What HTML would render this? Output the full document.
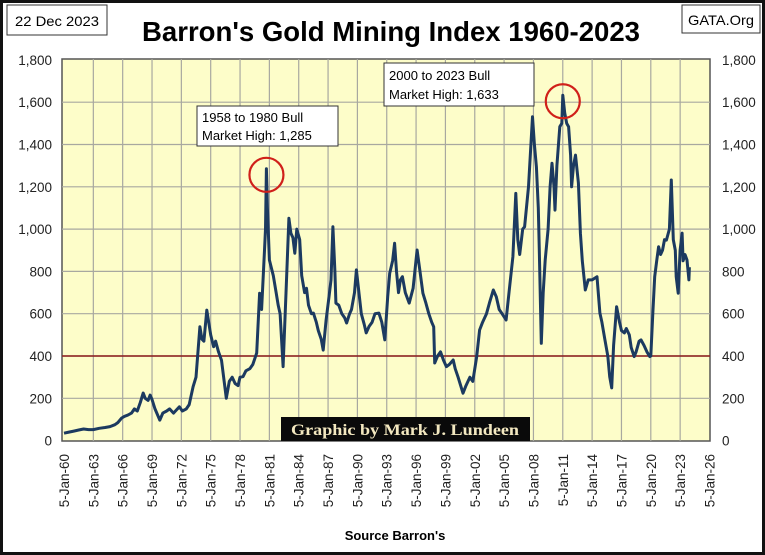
<!DOCTYPE html>
<html><head><meta charset="utf-8"><style>
html,body{margin:0;padding:0;background:#fff;}
svg{display:block;font-family:"Liberation Sans",sans-serif;}
</style></head><body>
<svg id="chart" width="765" height="555" viewBox="0 0 765 555">
<rect x="1.5" y="1.5" width="762" height="552" fill="#fff" stroke="#111" stroke-width="3"/>
<rect x="7" y="5" width="100" height="30" fill="#fff" stroke="#333" stroke-width="1"/>
<text x="57" y="26" font-size="14" text-anchor="middle" textLength="84" lengthAdjust="spacingAndGlyphs">22 Dec 2023</text>
<rect x="682" y="5" width="78" height="28" fill="#fff" stroke="#333" stroke-width="1"/>
<text x="721" y="25" font-size="14" text-anchor="middle" textLength="66" lengthAdjust="spacingAndGlyphs">GATA.Org</text>
<text x="391" y="41" font-size="28" font-weight="bold" text-anchor="middle" textLength="498" lengthAdjust="spacingAndGlyphs">Barron's Gold Mining Index 1960-2023</text>
<rect x="62" y="59" width="648" height="382" fill="#fdfdc9" stroke="#555" stroke-width="1.5"/>
<g id="grid"></g>
<g id="axes"></g>
<line id="ref" x1="62" x2="710" stroke="#8b1a1a" stroke-width="1.6"/>
<path id="series" fill="none" stroke="#1c3a60" stroke-width="3" stroke-linejoin="round"/>
<rect x="197" y="106" width="141" height="40" fill="#fff" stroke="#333" stroke-width="1"/>
<text x="202" y="122" font-size="13">1958 to 1980 Bull</text>
<text x="202" y="140" font-size="13">Market High: 1,285</text>
<circle id="c1" r="17" fill="none" stroke="#d0201a" stroke-width="2.2"/>
<rect x="384" y="63" width="150" height="43" fill="#fff" stroke="#333" stroke-width="1"/>
<text x="389" y="80" font-size="13">2000 to 2023 Bull</text>
<text x="389" y="99" font-size="13">Market High: 1,633</text>
<circle id="c2" r="17" fill="none" stroke="#d0201a" stroke-width="2.2"/>
<rect x="281" y="417" width="249" height="24" fill="#0a0a0a"/>
<text x="405" y="435" font-size="16" font-weight="bold" fill="#f3e8c0" text-anchor="middle" font-family="Liberation Serif,serif" textLength="228" lengthAdjust="spacingAndGlyphs">Graphic by Mark J. Lundeen</text>
<text x="395" y="540" font-size="13" font-weight="bold" text-anchor="middle">Source Barron's</text>
</svg>
<script>
const yTicks=[0,200,400,600,800,1000,1200,1400,1600,1800];
const yTickLabels=["0","200","400","600","800","1,000","1,200","1,400","1,600","1,800"];
const xTickYears=[1960,1963,1966,1969,1972,1975,1978,1981,1984,1987,1990,1993,1996,1999,2002,2005,2008,2011,2014,2017,2020,2023,2026];
const xTickLabels=["5-Jan-60","5-Jan-63","5-Jan-66","5-Jan-69","5-Jan-72","5-Jan-75","5-Jan-78","5-Jan-81","5-Jan-84","5-Jan-87","5-Jan-90","5-Jan-93","5-Jan-96","5-Jan-99","5-Jan-02","5-Jan-05","5-Jan-08","5-Jan-11","5-Jan-14","5-Jan-17","5-Jan-20","5-Jan-23","5-Jan-26"];
const dates=[
1960,1960.5,1961,1961.5,1962,1962.5,1963,1963.6,1964.2,1964.7,
1965.2,1965.5,1965.9,1966.2,1966.5,1966.9,1967.2,1967.5,1967.8,1968.1,
1968.3,1968.6,1968.8,1969.0,1969.3,1969.8,1970.1,1970.5,1970.8,1971.2,
1971.5,1971.8,1972.1,1972.5,1972.8,1973.2,1973.5,1973.9,1974.1,1974.3,
1974.6,1974.8,1975.0,1975.3,1975.5,1975.8,1976.1,1976.6,1976.9,1977.2,
1977.5,1977.8,1978.0,1978.3,1978.6,1979.0,1979.3,1979.7,1980.0,1980.2,
1980.5,1980.6,1980.7,1980.8,1981.0,1981.4,1981.7,1981.9,1982.1,1982.4,
1982.7,1983.0,1983.2,1983.4,1983.6,1983.8,1984.1,1984.3,1984.6,1984.8,
1985.0,1985.3,1985.5,1985.8,1986.0,1986.3,1986.5,1986.8,1987.1,1987.3,
1987.5,1987.7,1987.8,1988.1,1988.4,1988.7,1988.9,1989.2,1989.4,1989.7,
1989.9,1990.2,1990.4,1990.7,1990.9,1991.2,1991.5,1991.8,1992.2,1992.5,
1992.8,1993.1,1993.3,1993.6,1993.8,1994.0,1994.2,1994.4,1994.6,1994.9,
1995.3,1995.7,1996.1,1996.4,1996.7,1997.0,1997.3,1997.6,1997.8,1997.9,
1998.2,1998.5,1998.8,1999.1,1999.4,1999.8,2000.0,2000.3,2000.8,2001.1,
2001.5,2001.8,2002.2,2002.5,2002.8,2003.2,2003.5,2003.9,2004.2,2004.5,
2004.8,2005.2,2005.5,2005.9,2006.2,2006.4,2006.6,2006.9,2007.1,2007.5,
2007.9,2008.1,2008.3,2008.5,2008.6,2008.8,2009.0,2009.2,2009.5,2009.7,
2009.9,2010.1,2010.2,2010.4,2010.7,2010.9,2011.0,2011.2,2011.4,2011.6,
2011.8,2011.9,2012.1,2012.3,2012.6,2012.8,2013.0,2013.3,2013.6,2014.0,
2014.5,2014.8,2015.0,2015.3,2015.6,2015.8,2016.0,2016.2,2016.5,2016.8,
2017.0,2017.3,2017.5,2017.8,2018.0,2018.3,2018.5,2018.8,2019.0,2019.3,
2019.6,2019.9,2020.0,2020.2,2020.4,2020.6,2020.8,2021.0,2021.2,2021.4,
2021.6,2021.9,2022.1,2022.3,2022.5,2022.6,2022.8,2023.0,2023.2,2023.3,
2023.5,2023.7,2023.9,2023.95];
const values=[
35,40,45,50,55,52,52,58,62,66,
75,85,107,115,120,130,150,140,180,225,
200,190,215,195,150,97,130,140,150,130,
145,160,140,150,170,255,300,538,480,470,
617,560,500,444,470,420,380,200,280,300,
270,260,300,302,330,340,360,414,697,620,
900,1000,1285,1100,854,780,698,640,600,350,
698,1051,980,960,886,1000,950,780,700,720,
640,600,603,560,520,480,428,570,680,760,
1011,800,650,640,600,580,556,600,620,700,
807,680,600,550,509,540,560,600,603,560,
476,680,791,850,933,800,700,760,775,700,
650,720,901,800,697,650,600,560,538,367,
400,420,380,350,360,381,340,300,224,260,
300,280,397,523,560,600,650,712,680,620,
600,570,700,870,1169,950,880,1000,1011,1200,
1531,1400,1295,1100,900,460,700,854,1000,1200,
1311,1200,1090,1300,1484,1500,1633,1550,1500,1484,
1350,1200,1300,1350,1218,981,850,712,760,760,
775,603,560,480,400,302,249,450,633,560,
520,509,530,500,440,397,420,470,476,450,
420,397,400,600,775,850,917,880,900,950,
948,1000,1232,950,900,775,697,900,981,850,
880,854,760,820];
const X0=64, PXY=9.78, Y0=440.6, PXV=0.2115;
function xs(yr){return X0+(yr-1960)*PXY;}
function ys(v){return Y0-v*PXV;}
const NS="http://www.w3.org/2000/svg";
const grid=document.getElementById('grid'), axes=document.getElementById('axes');
yTicks.forEach((t,i)=>{
  const y=ys(t);
  if(t>0&&t<1800){const l=document.createElementNS(NS,'line');
  
  
  l.setAttribute('x1',62);l.setAttribute('x2',710);l.setAttribute('y1',y);l.setAttribute('y2',y);l.setAttribute('stroke','#a8a8a0');l.setAttribute('stroke-width','1.2');grid.appendChild(l);}
  [[52,'end','y-tick-label-left'],[722,'start','y-tick-label-right']].forEach(a=>{
    const tx=document.createElementNS(NS,'text');
    
    
    tx.setAttribute('x',a[0]);tx.setAttribute('y',y+5);tx.setAttribute('font-size','13.5');tx.setAttribute('text-anchor',a[1]);tx.setAttribute('fill','#222');tx.textContent=yTickLabels[i];axes.appendChild(tx);});
});
xTickYears.forEach((yr,i)=>{
  const x=xs(yr);
  if(i>0&&i<xTickYears.length-1){const l=document.createElementNS(NS,'line');
  
  
  l.setAttribute('x1',x);l.setAttribute('x2',x);l.setAttribute('y1',59);l.setAttribute('y2',441);l.setAttribute('stroke','#a8a8a0');l.setAttribute('stroke-width','1.2');grid.appendChild(l);}
  const tx=document.createElementNS(NS,'text');
  
  
  tx.setAttribute('transform','translate('+(x+5)+',454) rotate(-90)');tx.setAttribute('font-size','13.5');tx.setAttribute('text-anchor','end');tx.setAttribute('fill','#222');tx.textContent=xTickLabels[i];axes.appendChild(tx);
});
const r=document.getElementById('ref');r.setAttribute('y1',ys(400));r.setAttribute('y2',ys(400));
const n=Math.min(dates.length,values.length);
document.getElementById('series').setAttribute('d',dates.slice(0,n).map((d,i)=>(i?'L':'M')+xs(d).toFixed(1)+','+ys(values[i]).toFixed(1)).join(''));
const c1=document.getElementById('c1');c1.setAttribute('cx',xs(1980.7));c1.setAttribute('cy',ys(1285)+6);
const c2=document.getElementById('c2');c2.setAttribute('cx',xs(2011.0));c2.setAttribute('cy',ys(1633)+6);
</script>
</body></html>
